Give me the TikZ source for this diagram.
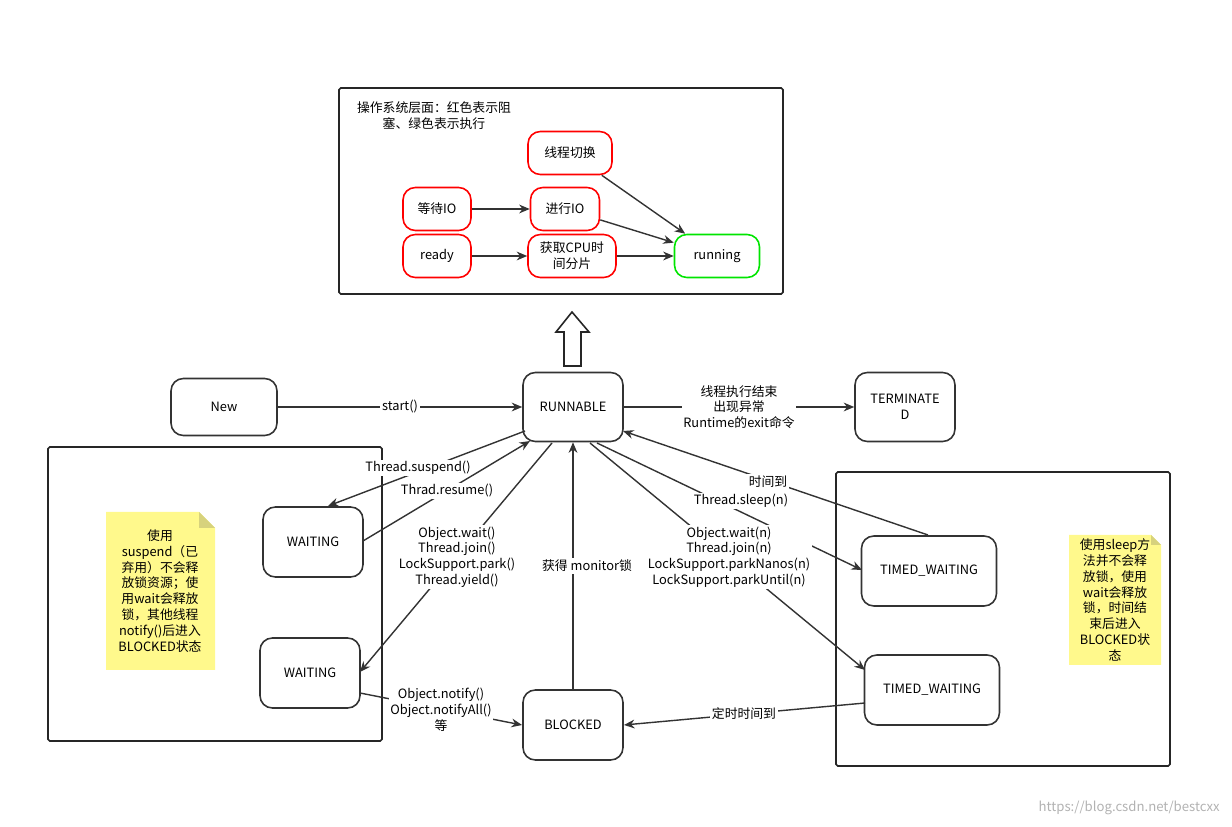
\documentclass[tikz,border=0pt]{standalone}
\usepackage{fontspec}
\setmainfont{Noto Sans CJK SC}
\usetikzlibrary{arrows.meta,calc}
\begin{document}
\begin{tikzpicture}[x=0.02cm,y=-0.02cm,
  font=\fontsize{7.3}{9}\selectfont,
  st/.style={draw=black!80,line width=0.9pt,rounded corners=7pt,fill=white,align=center},
  os/.style={draw=red,line width=0.9pt,rounded corners=7pt,fill=white,align=center,minimum width=1.4cm,minimum height=0.86cm},
  ar/.style={-{Stealth[length=6pt,width=5pt]},draw=black!80,line width=0.8pt},
  lb/.style={fill=white,inner sep=1pt,align=center},
  box/.style={draw=black!85,line width=0.9pt,rounded corners=1pt}]
\useasboundingbox (0,0) rectangle (1232,827);
% OS box
\draw[box] (339,88) rectangle (783,294);
\node[align=center] (title) at (434,116) {操作系统层面：红色表示阻\\塞、绿色表示执行};
\node[os,minimum width=1.68cm] (sw) at (570,153) {线程切换};
\node[os,minimum width=1.36cm] (wio) at (437,209) {等待IO};
\node[os,minimum width=1.38cm] (dio) at (565,209) {进行IO};
\node[os,minimum width=1.36cm] (ready) at (437,256) {ready};
\node[os,minimum width=1.76cm,inner sep=1pt] (cpu) at (572,256) {获取CPU时\\间分片};
\node[os,draw=green!90!black,minimum width=1.7cm] (run) at (717,256) {running};
\draw[ar] (wio) -- (dio);
\draw[ar] (ready) -- (cpu);
\draw[ar] (cpu) -- (run);
\draw[ar] (dio) -- (run);
\draw[ar] (sw) -- (run);
% hollow arrow
\draw[line width=0.9pt,black!85,fill=white] (564,366) -- (564,332) -- (556,332) -- (572,312) -- (589,332) -- (581,332) -- (581,366) -- cycle;
% boxes
\draw[box] (48,447) rectangle (382,741);
\draw[box] (836,472) rectangle (1170,766);
% notes
\fill[yellow!45!white] (106,512) -- (199,512) -- (215,528) -- (215,670) -- (106,670) -- cycle;
\fill[yellow!70!black!60] (199,512) -- (215,528) -- (199,528) -- cycle;
\node[align=center] (n1) at (160,591) {使用\\suspend（已\\弃用）不会释\\放锁资源；使\\用wait会释放\\锁，其他线程\\notify()后进入\\BLOCKED状态};
\fill[yellow!45!white] (1069,535) -- (1151,535) -- (1161,545) -- (1161,665) -- (1069,665) -- cycle;
\fill[yellow!70!black!60] (1151,535) -- (1161,545) -- (1151,545) -- cycle;
\node[align=center] (n2) at (1115,600) {使用sleep方\\法并不会释\\放锁，使用\\wait会释放\\锁，时间结\\束后进入\\BLOCKED状\\态};
% states
\node[st,minimum width=2.12cm,minimum height=1.14cm] (new) at (224,407) {New};
\node[st,minimum width=2cm,minimum height=1.38cm] (rn) at (573,407) {RUNNABLE};
\node[st,minimum width=2cm,minimum height=1.38cm] (term) at (905,407) {TERMINATE\\D};
\node[st,minimum width=2cm,minimum height=1.4cm] (w1) at (313,542) {WAITING};
\node[st,minimum width=2cm,minimum height=1.4cm] (w2) at (310,673) {WAITING};
\node[st,minimum width=2cm,minimum height=1.4cm] (bl) at (573,725) {BLOCKED};
\node[st,minimum width=2.7cm,minimum height=1.4cm] (tw1) at (929,571) {TIMED\_WAITING};
\node[st,minimum width=2.7cm,minimum height=1.4cm] (tw2) at (932,690) {TIMED\_WAITING};
% border points
\coordinate (r1) at (525,431);
\coordinate (r2) at (530,441);
\coordinate (r3) at (552,443);
\coordinate (r4) at (597,443);
\coordinate (r5) at (590,443);
\coordinate (r6) at (623,431);
\coordinate (w1a) at (328,506);
\coordinate (w1b) at (363,541);
\coordinate (w2a) at (360,672);
\coordinate (w2b) at (360,693);
\coordinate (bla) at (522,725);
\coordinate (t1a) at (862,570);
\coordinate (t1b) at (928,535);
\coordinate (t2a) at (865,670);
\coordinate (t2b) at (865,703);
\coordinate (blb) at (624,725);
% connectors
\draw[ar] (new) -- node[lb]{start()} (rn);
\draw[ar] (rn) -- node[lb]{线程执行结束\\出现异常\\Runtime的exit命令} (term);
\draw[ar] (r1) -- (w1a);
\node[lb] (l1) at (418,468) {Thread.suspend()};
\draw[ar] (w1b) -- (r2);
\node[lb] (l2) at (447,491) {Thrad.resume()};
\draw[ar] (r3) -- (w2a);
\node[lb] (l3) at (457,557) {Object.wait()\\Thread.join()\\LockSupport.park()\\Thread.yield()};
\draw[ar] (w2b) -- (bla);
\node[lb] (l4) at (441,710) {Object.notify()\\Object.notifyAll()\\等};
\draw[ar] (bl) -- (rn);
\node[lb] (l5) at (587,566) {获得 monitor锁};
\draw[ar] (r4) -- (t1a);
\draw[ar] (r5) -- (t2a);
\node[lb] (l6) at (741,501) {Thread.sleep(n)};
\node[lb] (l7) at (729,557) {Object.wait(n)\\Thread.join(n)\\LockSupport.parkNanos(n)\\LockSupport.parkUntil(n)};
\draw[ar] (t1b) -- (r6);
\node[lb] (l8) at (768,482) {时间到};
\draw[ar] (t2b) -- (blb);
\node[lb] (l9) at (744,714) {定时时间到};
\node[text=black!30,font=\fontsize{7.5}{9}\selectfont,anchor=east] (wm) at (1226,808) {https://blog.csdn.net/bestcxx};
\end{tikzpicture}
\end{document}
